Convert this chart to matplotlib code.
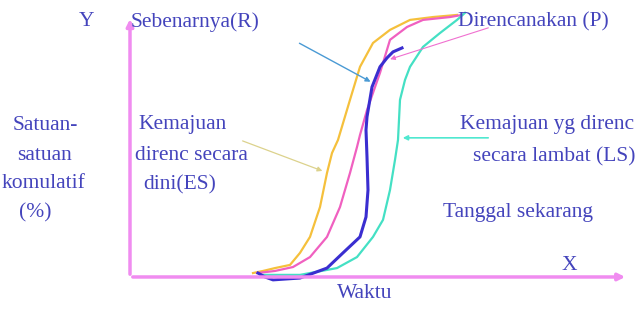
import numpy as np
import matplotlib
matplotlib.use("Agg")
import matplotlib.pyplot as plt

# S-curves: time (Waktu) vs cumulative progress (%)
es_t = [24.6, 26.6, 29.0, 32.0, 34.0, 36.0, 38.0, 39.4, 40.4, 41.6, 44.0, 46.0, 48.6, 52.0, 56.0, 60.6, 65.4]
es_y = [1.5, 2.3, 3.4, 4.6, 9.2, 15.3, 26.7, 39.7, 47.3, 52.3, 67.6, 80.2, 89.3, 94.3, 98.1, 99.2, 100.0]

p_t = [25.4, 29.0, 32.6, 36.0, 39.4, 42.0, 44.0, 45.4, 46.0, 47.4, 50.0, 52.0, 55.4, 58.6, 64.0, 66.4]
p_y = [1.5, 2.3, 3.8, 7.6, 15.3, 26.7, 39.7, 49.6, 54.2, 63.7, 77.9, 90.5, 95.4, 98.1, 99.2, 100.0]

r_t = [25.6, 27.0, 28.6, 34.0, 39.4, 42.6, 46.0, 47.2, 47.6, 47.4, 47.2, 47.4, 48.4, 50.0, 51.4, 52.6, 54.4]
r_y = [1.5, 0.0, -1.1, -0.4, 3.4, 9.2, 15.3, 22.9, 33.2, 45.8, 56.1, 61.1, 72.5, 80.2, 83.6, 85.9, 87.4]

ls_t = [26.0, 34.0, 41.4, 45.4, 48.6, 50.6, 52.0, 53.0, 53.6, 54.0, 55.0, 56.0, 58.6, 62.0, 65.4, 67.0]
ls_y = [0.8, 0.8, 3.4, 7.6, 15.3, 21.8, 33.2, 44.7, 52.3, 67.6, 75.2, 80.2, 87.8, 93.1, 98.1, 100.8]

TXT = "#4444bc"
AXC = "#f08cf0"
FONT = "Liberation Serif"

fig = plt.figure(figsize=(6.38, 3.10), dpi=100)
ax = fig.add_axes([0, 0, 1, 1])
# 5 px per time unit, 2.62 px per percent; origin at pixel (130, 277)
ax.set_xlim(-26, 101.6)
ax.set_ylim(-12.6, 105.7)
ax.axis("off")

# axes with arrows
ax.annotate("", xy=(0, 99.5), xytext=(0, 0),
            arrowprops=dict(arrowstyle="-|>", color=AXC, lw=2.5, mutation_scale=10))
ax.annotate("", xy=(99.6, 0), xytext=(0, 0),
            arrowprops=dict(arrowstyle="-|>", color=AXC, lw=2.5, mutation_scale=10))

ax.plot(es_t, es_y, color="#f5c03c", lw=1.6)
ax.plot(p_t, p_y, color="#f060c0", lw=1.6)
ax.plot(ls_t, ls_y, color="#44e0c4", lw=1.6)
ax.plot(r_t, r_y, color="#3a2ed0", lw=2.2)

# pointer arrows from labels
ax.annotate("", xy=(48.6, 74.0), xytext=(33.4, 89.7),
            arrowprops=dict(arrowstyle="-|>", color="#4a9ad4", lw=1.0, mutation_scale=7))
ax.annotate("", xy=(51.5, 82.8), xytext=(72.2, 95.4),
            arrowprops=dict(arrowstyle="-|>", color="#f070d0", lw=0.8, mutation_scale=7))
ax.annotate("", xy=(39.0, 40.1), xytext=(22.0, 52.3),
            arrowprops=dict(arrowstyle="-|>", color="#dcd28c", lw=0.9, mutation_scale=7))
ax.annotate("", xy=(54.0, 53.1), xytext=(72.2, 53.1),
            arrowprops=dict(arrowstyle="-|>", color="#50e8d0", lw=1.2, mutation_scale=7))

def label(px, py, s, ha="left"):
    fig.text(px / 638, 1 - py / 310, s, ha=ha, va="center", color=TXT,
             fontsize=15.5, family=FONT)

label(87, 21, "Y", ha="center")
label(131, 22, "Sebenarnya(R)")
label(458, 22, "Direncanakan (P)")
label(45, 125, "Satuan-", ha="center")
label(45, 156, "satuan", ha="center")
label(2, 184, "komulatif")
label(35, 213, "(%)", ha="center")
label(138, 124, "Kemajuan")
label(135, 156, "direnc secara")
label(143, 185, "dini(ES)")
label(460, 125, "Kemajuan yg direnc")
label(473, 157, "secara lambat (LS)")
label(443, 212, "Tanggal sekarang")
label(569, 266, "X", ha="center")
label(337, 293, "Waktu")

fig.savefig("out.png", dpi=100)
